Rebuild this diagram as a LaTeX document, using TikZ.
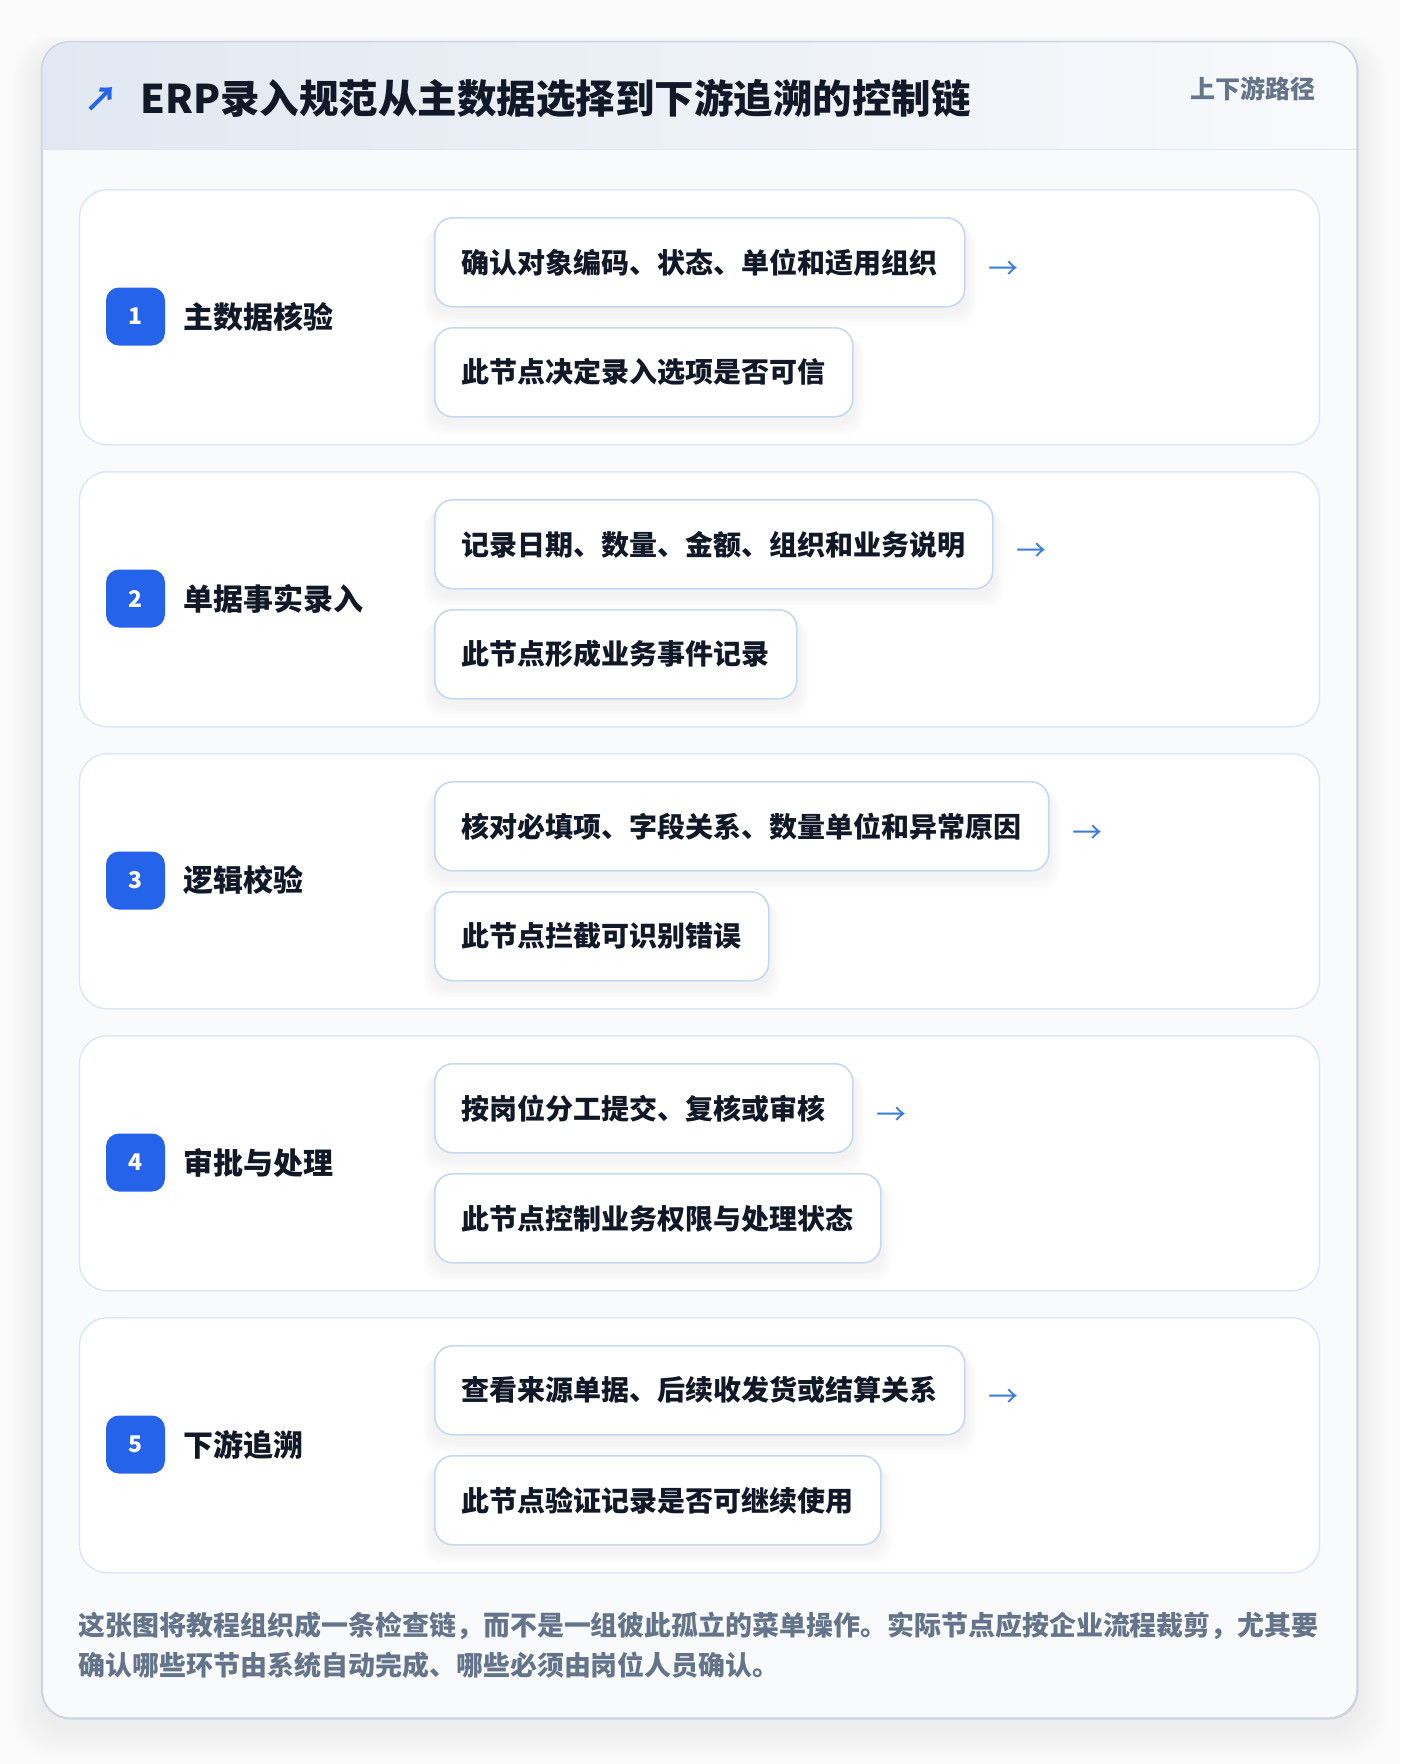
\documentclass[tikz,border=0pt]{standalone}
\usepackage{fontspec}
\setmainfont{Noto Sans CJK SC}
\usetikzlibrary{calc}
\definecolor{bluebadge}{HTML}{2563EB}
\definecolor{ink}{HTML}{111827}
\definecolor{slate}{HTML}{64748B}
\definecolor{cardline}{HTML}{DCE8F8}
\definecolor{boxline}{HTML}{C4D9F4}
\definecolor{bodybg}{HTML}{F8FAFC}
\definecolor{headL}{HTML}{E1E8F1}
\definecolor{headR}{HTML}{F8FAFC}
\definecolor{arrowblue}{HTML}{3B7DDD}
\definecolor{outline}{HTML}{CBD5E1}
\definecolor{pagebg}{HTML}{FBFBFC}
\pgfdeclarelayer{cardlayer}
\pgfdeclarelayer{shadowlayer}
\pgfsetlayers{cardlayer,shadowlayer,main}
\tikzset{
  stepcard/.style={draw=cardline, line width=1.5pt, fill=white, rounded corners=28pt,
    minimum width=1240pt, minimum height=255pt, inner sep=0pt, anchor=north west},
  subbox/.style={draw=boxline, line width=1.6pt, fill=white, rounded corners=18pt,
    minimum height=89pt, inner xsep=27pt, inner ysep=0pt, anchor=north west,
    font=\fontsize{28}{34}\selectfont\bfseries, text=ink},
  badge/.style={fill=bluebadge, rounded corners=13pt, minimum width=59pt, minimum height=58pt,
    inner sep=0pt, text=white, font=\fontsize{23}{26}\selectfont\bfseries},
  steplabel/.style={anchor=west, inner sep=0pt, text=ink, font=\fontsize{30}{36}\selectfont\bfseries},
  flowarrow/.style={anchor=center, inner sep=0pt, text=arrowblue, font=\fontsize{30}{36}\selectfont},
}
\begin{document}
\begin{tikzpicture}[x=1pt,y=-1pt]
\useasboundingbox (0,0) rectangle (1400,1764);
\begin{pgfonlayer}{cardlayer}
\fill[pagebg] (0,0) rectangle (1400,1764);
% soft shadow of the main card
\foreach \i in {1,...,14}{
  \fill[black, opacity=0.0055, rounded corners=28pt+\i pt]
    ({41.6-\i*2.2},{41.6-\i*1.2+10}) rectangle ({1357+\i*2.2},{1718+\i*2.4+8});
}
% main card
\node[draw=outline, line width=1.5pt, fill=bodybg, rounded corners=28pt, minimum width=1315.4pt,
  minimum height=1676.4pt, inner sep=0pt, anchor=north west] (main) at (41.6,41.6) {};
\begin{scope}
  \clip[rounded corners=28pt] (41.6,41.6) rectangle (1357,1718);
  \shade[left color=headL, right color=headR] (41.6,41.6) rectangle (1357,149.6);
\end{scope}
\draw[cardline, line width=1.5pt] (41.6,149.6) -- (1357,149.6);
\draw[outline, line width=1.5pt, rounded corners=28pt] (41.6,41.6) rectangle (1357,1718);
\end{pgfonlayer}
% header
\node[inner sep=0pt, text=bluebadge, font=\fontsize{34}{40}\selectfont\bfseries] (icon) at (101,99) {↗};
\node[anchor=west, inner sep=0pt, text=ink, font=\fontsize{39.5}{48}\selectfont\bfseries] (title) at (140,99)
  {ERP录入规范从主数据选择到下游追溯的控制链};
\node[anchor=east, inner sep=0pt, text=slate, font=\fontsize{25}{30}\selectfont\bfseries] (tag) at (1316,89)
  {上下游路径};
% steps
\foreach \n/\lab/\ta/\tb [count=\k] in {
  1/主数据核验/确认对象编码、状态、单位和适用组织/此节点决定录入选项是否可信,
  2/单据事实录入/记录日期、数量、金额、组织和业务说明/此节点形成业务事件记录,
  3/逻辑校验/核对必填项、字段关系、数量单位和异常原因/此节点拦截可识别错误,
  4/审批与处理/按岗位分工提交、复核或审核/此节点控制业务权限与处理状态,
  5/下游追溯/查看来源单据、后续收发货或结算关系/此节点验证记录是否可继续使用}{
  \pgfmathsetmacro\T{189+282*(\k-1)}
  \begin{pgfonlayer}{cardlayer}
    \node[stepcard] (card\n) at (78.7,\T) {};
  \end{pgfonlayer}
  \node[badge] (badge\n) at (135.5,\T+127.5) {\n};
  \node[steplabel] (lab\n) at (183,\T+127.5) {\lab};
  \node[subbox] (top\n) at (434,\T+28) {\ta};
  \node[subbox] (bot\n) at (434,\T+138) {\tb};
  \node[flowarrow] (arr\n) at ($(top\n.east)+(38,8)$) {→};
  \begin{pgfonlayer}{shadowlayer}
    \foreach \b in {top\n,bot\n}{
      \foreach \j in {1,...,6}{
        \fill[black, opacity=0.009, rounded corners=18pt]
          ($(\b.north west)+({-\j*1.8},{6+\j*0.8})$) rectangle ($(\b.south east)+({\j*1.8},{5+\j*2.2})$);
      }
    }
  \end{pgfonlayer}
}
% footer
\node[anchor=west, inner sep=0pt, align=left, text=slate, font=\fontsize{26.95}{40}\selectfont\bfseries] (note) at (78.7,1645)
  {这张图将教程组织成一条检查链，而不是一组彼此孤立的菜单操作。实际节点应按企业流程裁剪，尤其要\\确认哪些环节由系统自动完成、哪些必须由岗位人员确认。};
\end{tikzpicture}
\end{document}
